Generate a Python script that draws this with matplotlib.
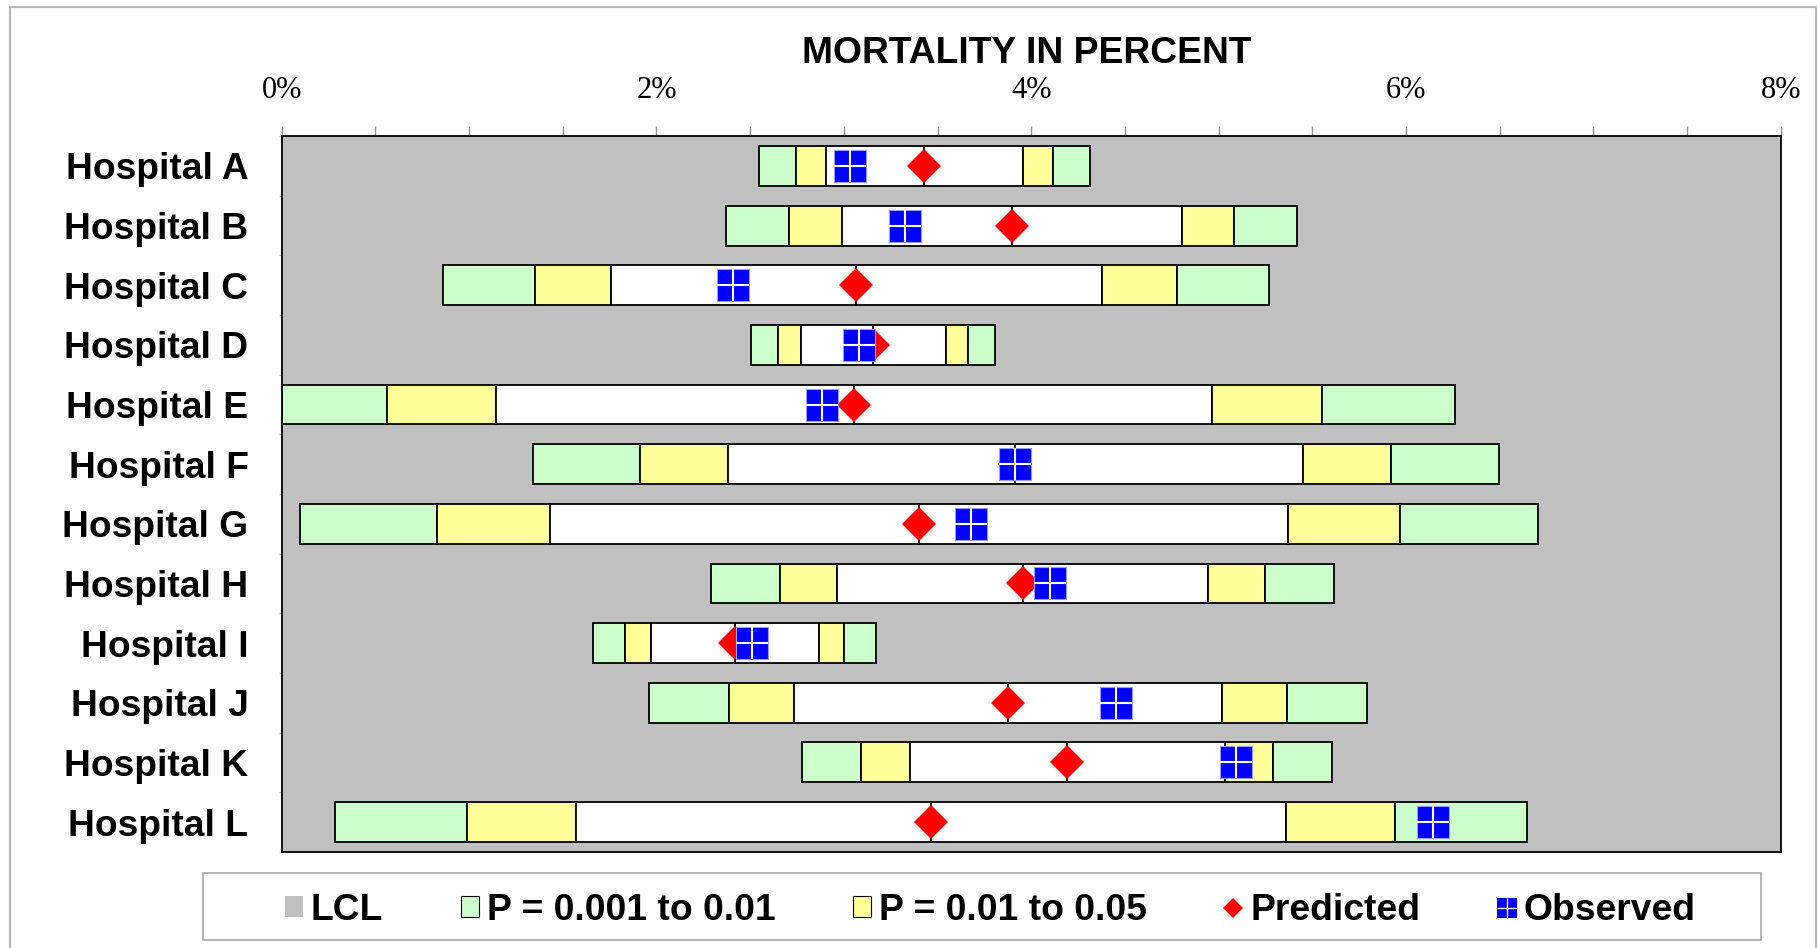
import matplotlib
matplotlib.use('Agg')
import matplotlib.pyplot as plt
from matplotlib.patches import Rectangle, Patch
from matplotlib.lines import Line2D
import numpy as np

# mortality in percent
hospitals = ['Hospital A', 'Hospital B', 'Hospital C', 'Hospital D', 'Hospital E', 'Hospital F',
             'Hospital G', 'Hospital H', 'Hospital I', 'Hospital J', 'Hospital K', 'Hospital L']
lcl = [2.545, 2.369, 0.862, 2.504, 0.000, 1.339, 0.098, 2.291, 1.663, 1.960, 2.778, 0.283]
p01_lo = [2.743, 2.709, 1.352, 2.650, 0.560, 1.910, 0.829, 2.661, 1.830, 2.387, 3.093, 0.989]
p05_lo = [2.903, 2.988, 1.755, 2.771, 1.145, 2.380, 1.432, 2.963, 1.969, 2.734, 3.351, 1.569]
predicted = [3.429, 3.897, 3.065, 3.157, 3.056, 3.915, 3.401, 3.954, 2.419, 3.876, 4.191, 3.465]
p05_hi = [3.954, 4.804, 4.376, 3.545, 4.966, 5.451, 5.368, 4.945, 2.867, 5.018, 5.034, 5.359]
p01_hi = [4.118, 5.083, 4.777, 3.664, 5.550, 5.919, 5.969, 5.247, 3.002, 5.366, 5.290, 5.939]
ucl = [4.313, 5.421, 5.267, 3.806, 6.263, 6.496, 6.704, 5.617, 3.171, 5.793, 5.605, 6.645]
observed = [3.033, 3.326, 2.408, 3.082, 2.883, 3.915, 3.678, 4.101, 2.508, 4.452, 5.091, 6.144]

gray = '#C0C0C0'
green = '#CCFFCC'
yellow = '#FFFF99'

fig = plt.figure(figsize=(18.2, 9.48), dpi=100)
ax = fig.add_axes([0.1548, 0.1013, 0.8236, 0.7552])
ax.set_facecolor(gray)

lcl = np.array(lcl)
y = np.arange(len(hospitals))
h = 0.67

ax.barh(y, lcl, height=h, color=gray, edgecolor='none')
segments = [(lcl, p01_lo, green), (p01_lo, p05_lo, yellow), (p05_lo, predicted, 'white'),
            (predicted, p05_hi, 'white'), (p05_hi, p01_hi, yellow), (p01_hi, ucl, green)]
for lo, hi, c in segments:
    lo = np.array(lo)
    hi = np.array(hi)
    ax.barh(y, hi - lo, left=lo, height=h, color=c, edgecolor='black', linewidth=1.3)

ax.plot(predicted, y, 'D', ms=17.3, color='red', mew=0, zorder=3)
ax.plot(observed, y, 's', ms=23, color='blue', mec='#9999ff', mew=0.8, zorder=4)
ax.plot(observed, y, '+', ms=23, color='white', mew=1.5, zorder=5)

ax.set_xlim(0, 8)
ax.set_ylim(len(hospitals) - 0.5, -0.5)
ax.xaxis.tick_top()
ax.set_xticks([0, 2, 4, 6, 8])
ax.set_xticklabels(['0%', '2%', '4%', '6%', '8%'], fontsize=22, fontfamily='Liberation Serif')
ax.set_xticks(np.arange(0, 8.01, 0.5), minor=True)
ax.tick_params(axis='x', which='both', direction='out', length=7, color='#909090', width=1, pad=15)

ax.set_yticks(y)
ax.set_yticklabels(hospitals, fontsize=26.7, fontweight='bold', fontfamily='Liberation Sans')
ax.set_yticks(np.arange(-0.5, len(hospitals), 1), minor=True)
ax.tick_params(axis='y', which='major', length=0, pad=24)
ax.tick_params(axis='y', which='minor', length=2.5, color='#b0b0b0')
for s in ax.spines.values():
    s.set_linewidth(1.3)
    s.set_color('black')

fig.text(0.564, 0.9436, 'MORTALITY IN PERCENT', ha='center', va='center',
         fontsize=26.8, fontweight='bold', fontfamily='Liberation Sans')

handles = [Patch(facecolor=gray, edgecolor='none'),
           Patch(facecolor=green, edgecolor='black', linewidth=0.8),
           Patch(facecolor=yellow, edgecolor='black', linewidth=0.8),
           Line2D([], [], marker='D', ls='none', color='red', ms=10.5, mew=0),
           (Line2D([], [], marker='s', ls='none', color='blue', ms=14, mew=0),
            Line2D([], [], marker='+', ls='none', color='white', ms=14, mew=1))]
labels = ['LCL', 'P = 0.001 to 0.01', 'P = 0.01 to 0.05', 'Predicted', 'Observed']
fig.legend(handles, labels, loc='center', bbox_to_anchor=(0.544, 0.0396), ncol=5, frameon=False,
           prop={'family': 'Liberation Sans', 'weight': 'bold', 'size': 26.8},
           handlelength=0.5, handleheight=0.5, handletextpad=0.2, columnspacing=2.08,
           borderaxespad=0, numpoints=1)

# legend box and outer chart border
fig.add_artist(Rectangle((203 / 1820, 1 - 940 / 948), 1558 / 1820, 67 / 948, transform=fig.transFigure,
                         fill=False, edgecolor='#a8a8a8', linewidth=1.2))
fig.add_artist(Rectangle((10 / 1820, -0.02), 1806 / 1820, 1 - 7 / 948 + 0.02, transform=fig.transFigure,
                         fill=False, edgecolor='#b8b8b8', linewidth=1.5))

fig.savefig('out.png', dpi=100)
